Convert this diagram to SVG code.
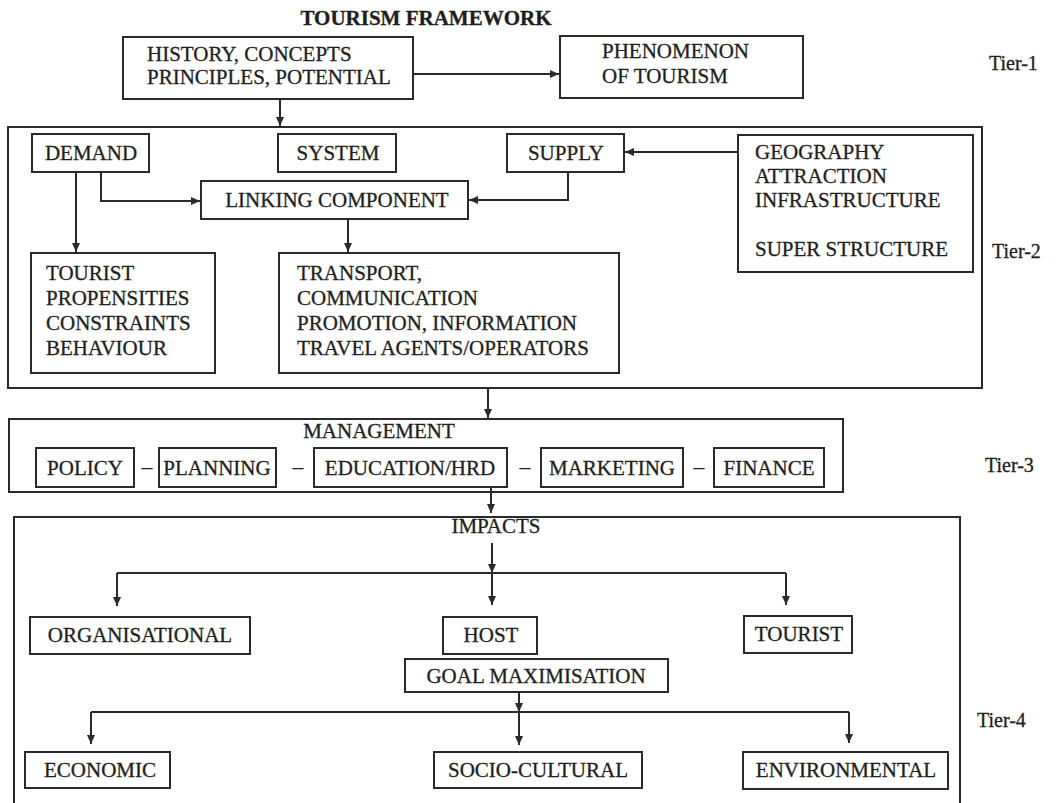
<svg xmlns="http://www.w3.org/2000/svg" width="1056" height="803" viewBox="0 0 1056 803">
<defs>
<style>
.bx{fill:none;stroke:#2a2a2a;stroke-width:2}
.ln{fill:none;stroke:#2a2a2a;stroke-width:2}
.ar{fill:none;stroke:#2a2a2a;stroke-width:2;marker-end:url(#ah)}
text{font-family:"Liberation Serif","Times New Roman",serif;font-size:21px;fill:#1e1e1e;stroke:#1e1e1e;stroke-width:0.3}
.c{text-anchor:middle}
.title{font-weight:bold}
.tier{font-size:20px}
</style>
<marker id="ah" markerUnits="userSpaceOnUse" markerWidth="10" markerHeight="10" refX="9" refY="4" orient="auto">
<path d="M0,0 L9,4 L0,8 z" fill="#2a2a2a"/>
</marker>
</defs>
<rect width="1056" height="803" fill="#ffffff"/>

<text class="title c" x="426" y="25">TOURISM FRAMEWORK</text>

<g id="connectors">
<path class="ar" d="M413,74 H559"/>
<path class="ar" d="M280,99 V126"/>
<path class="ar" d="M738,152 H625"/>
<path class="ar" d="M101,172 V201 H200"/>
<path class="ar" d="M76,172 V252"/>
<path class="ar" d="M568,172 V200 H469"/>
<path class="ar" d="M348,219 V252"/>
<path class="ar" d="M488,388 V418"/>
<path class="ar" d="M491,487 V513"/>
<path class="ar" d="M492,543 V573"/>
<path class="ar" d="M492,573 V605"/>
<path class="ln" d="M117,573 H786"/>
<path class="ar" d="M117,573 V606"/>
<path class="ar" d="M786,573 V605"/>
<path class="ar" d="M519,692 V712"/>
<path class="ar" d="M519,712 V745"/>
<path class="ln" d="M91,712 H849"/>
<path class="ar" d="M91,712 V744"/>
<path class="ar" d="M849,712 V743"/>
</g>

<g id="tier1">
<g id="history"><rect class="bx" x="123" y="37" width="290" height="62"/>
<text x="147" y="61">HISTORY, CONCEPTS</text><text x="147" y="84">PRINCIPLES, POTENTIAL</text></g>
<g id="phenomenon"><rect class="bx" x="560" y="36" width="243" height="62"/>
<text x="602" y="58">PHENOMENON</text><text x="602" y="83">OF TOURISM</text></g>
<text class="tier" x="989" y="70">Tier-1</text>
</g>

<g id="tier2">
<rect class="bx" x="8" y="127" width="974" height="261"/>
<g id="demand"><rect class="bx" x="32" y="134" width="117" height="38"/><text class="c" x="91" y="160">DEMAND</text></g>
<g id="system"><rect class="bx" x="278" y="134" width="118" height="38"/><text class="c" x="338" y="160">SYSTEM</text></g>
<g id="supply"><rect class="bx" x="507" y="134" width="117" height="38"/><text class="c" x="566" y="160">SUPPLY</text></g>
<g id="geography"><rect class="bx" x="738" y="135" width="235" height="137"/>
<text x="755" y="159">GEOGRAPHY</text><text x="755" y="183">ATTRACTION</text><text x="755" y="207">INFRASTRUCTURE</text><text x="755" y="256">SUPER STRUCTURE</text></g>
<g id="linking"><rect class="bx" x="201" y="181" width="267" height="38"/><text class="c" x="337" y="207">LINKING COMPONENT</text></g>
<g id="tourist-box"><rect class="bx" x="31" y="253" width="184" height="120"/>
<text x="46" y="280">TOURIST</text><text x="46" y="305">PROPENSITIES</text><text x="46" y="330">CONSTRAINTS</text><text x="46" y="355">BEHAVIOUR</text></g>
<g id="transport"><rect class="bx" x="279" y="253" width="340" height="120"/>
<text x="297" y="280">TRANSPORT,</text><text x="297" y="305">COMMUNICATION</text><text x="297" y="330">PROMOTION, INFORMATION</text><text x="297" y="355">TRAVEL AGENTS/OPERATORS</text></g>
<text class="tier" x="992" y="258">Tier-2</text>
</g>

<g id="tier3">
<rect class="bx" x="9" y="419" width="834" height="73"/>
<text class="c" x="379" y="438">MANAGEMENT</text>
<g id="policy"><rect class="bx" x="36" y="448" width="98" height="39"/><text class="c" x="85" y="475">POLICY</text></g>
<text class="c" x="147" y="474">–</text>
<g id="planning"><rect class="bx" x="159" y="448" width="117" height="39"/><text class="c" x="217" y="475">PLANNING</text></g>
<text class="c" x="298" y="474">–</text>
<g id="education"><rect class="bx" x="314" y="448" width="193" height="39"/><text class="c" x="410" y="475">EDUCATION/HRD</text></g>
<text class="c" x="525" y="474">–</text>
<g id="marketing"><rect class="bx" x="541" y="448" width="142" height="39"/><text class="c" x="612" y="475">MARKETING</text></g>
<text class="c" x="699" y="474">–</text>
<g id="finance"><rect class="bx" x="714" y="448" width="110" height="39"/><text class="c" x="769" y="475">FINANCE</text></g>
<text class="tier" x="985" y="472">Tier-3</text>
</g>

<g id="tier4">
<rect class="bx" x="14" y="517" width="946" height="310"/>
<text class="c" x="496" y="533">IMPACTS</text>
<g id="organisational"><rect class="bx" x="30" y="617" width="220" height="37"/><text class="c" x="140" y="642">ORGANISATIONAL</text></g>
<g id="host"><rect class="bx" x="443" y="617" width="94" height="37"/><text class="c" x="491" y="642">HOST</text></g>
<g id="tourist"><rect class="bx" x="744" y="616" width="108" height="37"/><text class="c" x="799" y="641">TOURIST</text></g>
<g id="goal"><rect class="bx" x="405" y="659" width="263" height="33"/><text class="c" x="536" y="683">GOAL MAXIMISATION</text></g>
<g id="economic"><rect class="bx" x="25" y="752" width="145" height="36"/><text class="c" x="100" y="777">ECONOMIC</text></g>
<g id="socio"><rect class="bx" x="434" y="752" width="208" height="36"/><text class="c" x="538" y="777">SOCIO-CULTURAL</text></g>
<g id="environmental"><rect class="bx" x="743" y="752" width="205" height="37"/><text class="c" x="846" y="777">ENVIRONMENTAL</text></g>
<text class="tier" x="977" y="727">Tier-4</text>
</g>
</svg>
